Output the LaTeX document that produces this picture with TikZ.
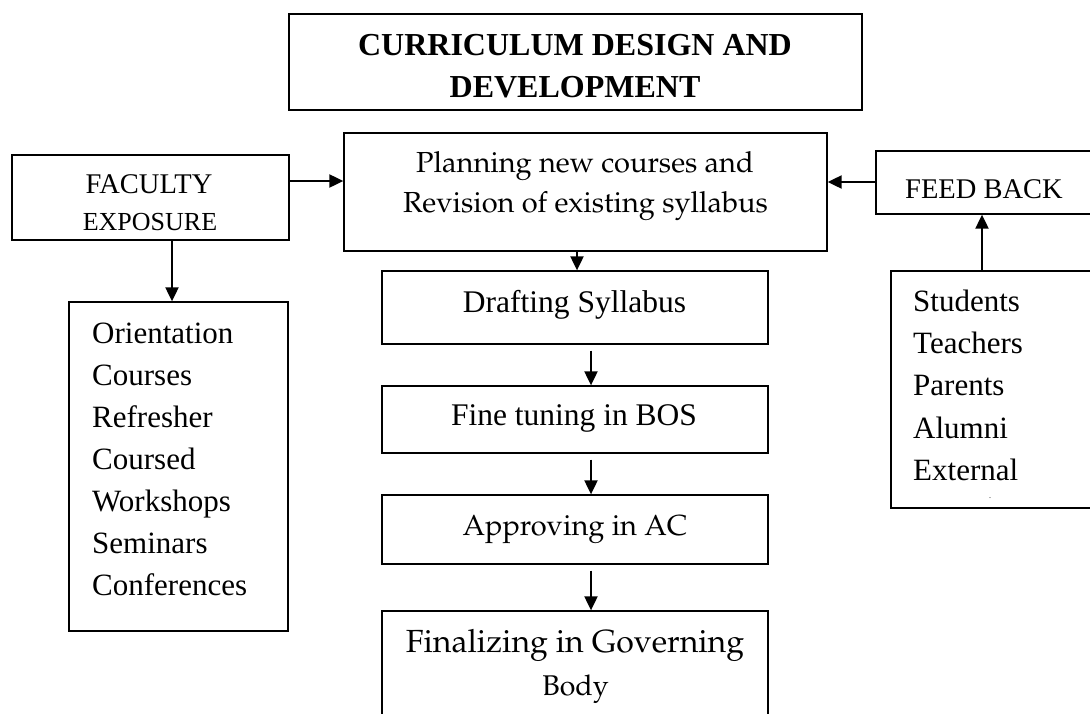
\documentclass[tikz,border=0pt]{standalone}
\usepackage[T1]{fontenc}
\usepackage{fontspec}
\setmainfont{Liberation Serif}
\usetikzlibrary{arrows.meta}
\newcommand{\palfont}{\fontencoding{T1}\fontfamily{ppl}\selectfont}
\tikzset{
  box/.style={draw=black, line width=1.3pt, inner sep=0pt, fill=white},
  arr/.style={draw=black, line width=2pt, -{Triangle[length=14pt,width=13pt]}},
  txt/.style={inner sep=0pt, anchor=base},
  ltxt/.style={inner sep=0pt, anchor=base west},
  times/.style={font=\fontsize{31}{37}\selectfont},
  pal/.style={font=\palfont\fontsize{29}{35}\selectfont}
}
\begin{document}
\begin{tikzpicture}[x=1pt,y=-1pt]
\useasboundingbox[fill=white] (0,0) rectangle (1090,713);

% boxes
\node[box, line width=1.5pt, minimum width=573pt, minimum height=96pt] (title) at (575.5,62) {};
\node[box, minimum width=483pt, minimum height=118pt] (plan) at (585.5,192) {};
\node[box, minimum width=277pt, minimum height=85pt] (fac) at (150.5,197.5) {};
\node[box, minimum width=219pt, minimum height=329pt] (orient) at (178.5,466.5) {};
\node[box, minimum width=216pt, minimum height=63pt] (feed) at (984,182.5) {};
\node[box, minimum width=201pt, minimum height=237pt] (stud) at (991.5,389.5) {};
\node[box, minimum width=386pt, minimum height=73pt] (draft) at (575,307.5) {};
\node[box, minimum width=386pt, minimum height=67pt] (fine) at (575,419.5) {};
\node[box, minimum width=386pt, minimum height=69pt] (appr) at (575,529.5) {};
\node[box, minimum width=386pt, minimum height=140pt] (final) at (575,681) {};

% texts
\node[txt, font=\bfseries\fontsize{32}{38}\selectfont] (t1) at (575,55) {CURRICULUM DESIGN AND};
\node[txt, font=\bfseries\fontsize{32}{38}\selectfont] (t2) at (575,97) {DEVELOPMENT};
\node[txt, pal] (p1) at (585,172) {Planning new courses and};
\node[txt, pal] (p2) at (585.5,212) {Revision of existing syllabus};
\node[txt, font=\fontsize{28.5}{34}\selectfont] (f1) at (149,193) {FACULTY};
\node[txt, font=\fontsize{26}{31}\selectfont] (f2) at (150,230) {EXPOSURE};
\node[txt, font=\fontsize{28.5}{34}\selectfont] (fb) at (984,198) {FEED BACK};
\node[txt, font=\fontsize{31.5}{37}\selectfont] (d1) at (574.5,312) {Drafting Syllabus};
\node[txt, font=\fontsize{31.5}{37}\selectfont] (ft1) at (574,425) {Fine tuning in BOS};
\node[txt, pal] (a1) at (575,535) {Approving in AC};
\node[txt, font=\palfont\fontsize{32}{38}\selectfont] (g1) at (575,652) {Finalizing in Governing};
\node[txt, font=\palfont\fontsize{28.5}{34}\selectfont] (g2) at (575.5,695) {Body};

\node[ltxt, times] (o1) at (92,343) {Orientation};
\node[ltxt, times] (o2) at (92,385) {Courses};
\node[ltxt, times] (o3) at (92,427) {Refresher};
\node[ltxt, times] (o4) at (92,469) {Coursed};
\node[ltxt, times] (o5) at (92,511) {Workshops};
\node[ltxt, times] (o6) at (92,553) {Seminars};
\node[ltxt, times] (o7) at (92,595) {Conferences};

\node[ltxt, times] (s1) at (913,311) {Students};
\node[ltxt, times] (s2) at (913,353) {Teachers};
\node[ltxt, times] (s3) at (913,395) {Parents};
\node[ltxt, times] (s4) at (913,438) {Alumni};
\node[ltxt, times] (s5) at (913,480) {External};
\node[txt, font=\fontsize{8}{9}\selectfont] (dot) at (990,498) {.};

% connectors
\draw[arr] (fac.east |- 0,181) -- (plan.west |- 0,181);
\draw[arr] (feed.west |- 0,182) -- (plan.east |- 0,182);
\draw[arr] (fac.south -| 172,0) -- (orient.north -| 172,0);
\draw[arr] (stud.north -| 982,0) -- (feed.south -| 982,0);
\draw[arr] (plan.south -| 577,0) -- (draft.north -| 577,0);
\draw[arr] ([yshift=-6pt]draft.south -| 591,0) -- (fine.north -| 591,0);
\draw[arr] ([yshift=-6pt]fine.south -| 591,0) -- (appr.north -| 591,0);
\draw[arr] ([yshift=-6pt]appr.south -| 591,0) -- (final.north -| 591,0);
\end{tikzpicture}
\end{document}
